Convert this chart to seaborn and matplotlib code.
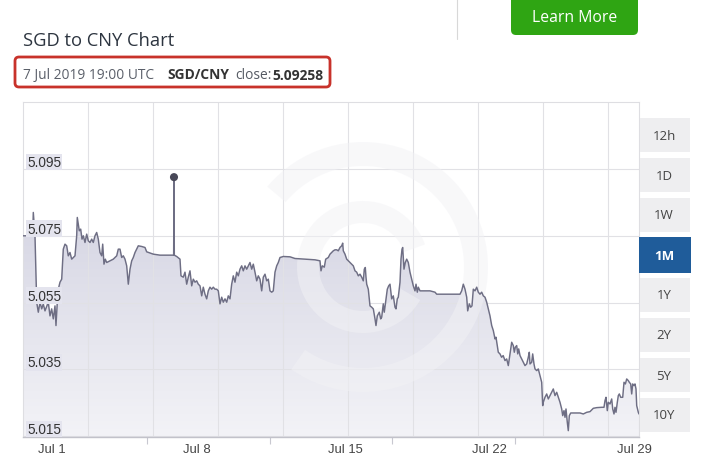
import numpy as np
import pandas as pd
import matplotlib
matplotlib.use("Agg")
import matplotlib.pyplot as plt
import matplotlib.dates as mdates
import matplotlib.transforms as mtransforms
from matplotlib.colors import LinearSegmentedColormap
from matplotlib.patches import FancyBboxPatch, Wedge, Rectangle
from matplotlib.lines import Line2D
import seaborn as sns

# days since 2019-07-01 00:00 and SGD/CNY rate
day_offset = [
    -0.725, -0.256, -0.227, -0.145, -0.063, 0.015, 0.097, 0.179, 0.256, 0.338,
    0.498, 0.580, 0.662, 0.740, 0.822, 0.870, 0.933, 0.982, 1.064, 1.146,
    1.223, 1.306, 1.388, 1.465, 1.547, 1.630, 1.707, 1.789, 1.871, 1.900,
    1.997, 2.065, 2.128, 2.191, 2.273, 2.355, 2.432, 2.515, 2.597, 2.674,
    2.756, 2.838, 2.916, 2.998, 3.080, 3.129, 3.191, 3.254, 3.322, 3.482,
    3.641, 3.806, 3.883, 3.965, 4.047, 4.125, 4.207, 4.289, 4.367, 4.449,
    4.531, 4.608, 4.691, 4.773, 4.850, 5.015, 5.174, 5.256, 5.575, 5.899,
    6.560, 6.576, 6.592, 6.707, 6.867,
    6.915, 7.026, 7.108, 7.190, 7.268, 7.350, 7.432, 7.510, 7.592, 7.674,
    7.751, 7.834, 7.916, 7.993, 8.075, 8.157, 8.235, 8.317, 8.399, 8.477,
    8.559, 8.641, 8.719, 8.801, 8.883, 8.960, 9.043, 9.125, 9.202, 9.284,
    9.366, 9.444, 9.526, 9.608, 9.686, 9.768, 9.850, 9.927, 10.010, 10.092,
    10.169, 10.251, 10.334, 10.411, 10.493, 10.575, 10.653, 10.735, 10.817, 10.895,
    10.977, 11.059, 11.137, 11.219, 11.301, 11.378, 11.460, 11.543, 11.620, 11.702,
    11.862, 12.186, 12.427, 12.911, 13.395, 13.636, 13.685, 13.748, 13.844, 13.912,
    14.038, 14.120, 14.202, 14.279, 14.362,
    14.444, 14.521, 14.603, 14.685, 14.734, 14.763, 14.845, 14.927, 15.005, 15.087,
    15.169, 15.247, 15.329, 15.411, 15.489, 15.571, 15.653, 15.730, 15.779, 15.827,
    15.861, 15.895, 15.972, 16.054, 16.136, 16.214, 16.296, 16.344, 16.407, 16.504,
    16.571, 16.620, 16.697, 16.745, 16.828, 16.891, 16.958, 17.021, 17.103, 17.181,
    17.263, 17.311, 17.374, 17.423, 17.505, 17.553, 17.602, 17.635, 17.698, 17.761,
    17.829, 17.906, 17.988, 18.070, 18.148, 18.230, 18.279, 18.342, 18.390, 18.472,
    18.632, 18.956, 19.197, 19.279, 19.521, 19.923, 20.406, 20.488, 20.566, 20.648,
    20.730, 20.778, 20.856, 20.924, 20.986, 21.050, 21.132, 21.214, 21.291,
    21.373, 21.455, 21.533, 21.615, 21.697, 21.775, 21.857, 21.939, 22.017, 22.099,
    22.147, 22.210, 22.258, 22.340, 22.418, 22.495, 22.582, 22.664, 22.742, 22.824,
    22.906, 22.983, 23.032, 23.080, 23.148, 23.197, 23.245, 23.308, 23.390, 23.467,
    23.549, 23.631, 23.709, 23.757, 23.791, 23.873, 23.921, 23.984, 24.033, 24.115,
    24.192, 24.275, 24.357, 24.405, 24.434, 24.516, 24.598, 24.676, 24.758, 24.840,
    24.918, 25.000, 25.082, 25.160, 25.242, 25.324, 25.373, 25.435, 25.484, 25.532,
    25.595, 25.643, 25.692, 25.760, 25.886, 26.209, 26.369, 26.533, 26.692, 26.852,
    27.017, 27.258, 27.369, 27.418, 27.466, 27.529, 27.577, 27.660, 27.742, 27.791,
    27.853, 27.901, 27.950, 28.013, 28.061, 28.110, 28.177, 28.274, 28.337, 28.404,
    28.467, 28.544, 28.593, 28.660, 28.709, 28.757, 28.820, 28.868, 28.917, 28.951,
    29.029, 29.062,
]
close_rate = [
    5.0750, 5.0750, 5.0820, 5.0750, 5.0551, 5.0521, 5.0551, 5.0531, 5.0546, 5.0525,
    5.0551, 5.0510, 5.0531, 5.0501, 5.0540, 5.0481, 5.0551, 5.0590, 5.0611, 5.0620,
    5.0710, 5.0725, 5.0720, 5.0690, 5.0700, 5.0680, 5.0685, 5.0690, 5.0750, 5.0805,
    5.0765, 5.0770, 5.0740, 5.0750, 5.0730, 5.0755, 5.0735, 5.0730, 5.0740, 5.0730,
    5.0750, 5.0760, 5.0740, 5.0700, 5.0690, 5.0725, 5.0665, 5.0680, 5.0670, 5.0675,
    5.0680, 5.0690, 5.0710, 5.0710, 5.0685, 5.0690, 5.0680, 5.0660, 5.0605, 5.0650,
    5.0675, 5.0685, 5.0700, 5.0710, 5.0720, 5.0718, 5.0715, 5.0702, 5.0695, 5.0692,
    5.0692, 5.09258, 5.0692, 5.0688, 5.0680,
    5.0630, 5.0626, 5.0641, 5.0605, 5.0626, 5.0645, 5.0600, 5.0620, 5.0611, 5.0615,
    5.0605, 5.0600, 5.0570, 5.0596, 5.0575, 5.0561, 5.0585, 5.0596, 5.0590, 5.0596,
    5.0590, 5.0590, 5.0585, 5.0546, 5.0566, 5.0551, 5.0561, 5.0551, 5.0570, 5.0561,
    5.0605, 5.0630, 5.0611, 5.0641, 5.0630, 5.0650, 5.0660, 5.0645, 5.0660, 5.0650,
    5.0660, 5.0670, 5.0650, 5.0665, 5.0641, 5.0615, 5.0630, 5.0620, 5.0585, 5.0626,
    5.0635, 5.0615, 5.0620, 5.0585, 5.0581, 5.0585, 5.0641, 5.0660, 5.0670, 5.0685,
    5.0688, 5.0687, 5.0682, 5.0680, 5.0678, 5.0675, 5.0645, 5.0660, 5.0656, 5.0680,
    5.0685, 5.0695, 5.0700, 5.0705, 5.0708,
    5.0708, 5.0705, 5.0715, 5.0720, 5.0728, 5.0705, 5.0695, 5.0680, 5.0675, 5.0670,
    5.0665, 5.0660, 5.0645, 5.0641, 5.0630, 5.0635, 5.0626, 5.0615, 5.0650, 5.0655,
    5.0626, 5.0605, 5.0590, 5.0540, 5.0536, 5.0531, 5.0501, 5.0481, 5.0510, 5.0521,
    5.0501, 5.0506, 5.0546, 5.0521, 5.0561, 5.0590, 5.0600, 5.0605, 5.0561, 5.0570,
    5.0536, 5.0531, 5.0561, 5.0566, 5.0611, 5.0680, 5.0710, 5.0715, 5.0650, 5.0670,
    5.0680, 5.0670, 5.0641, 5.0620, 5.0600, 5.0585, 5.0605, 5.0581, 5.0596, 5.0585,
    5.0585, 5.0585, 5.0581, 5.0575, 5.0575, 5.0575, 5.0575, 5.0585, 5.0605, 5.0590,
    5.0566, 5.0525, 5.0546, 5.0536, 5.0540, 5.0590, 5.0585, 5.0596, 5.0581,
    5.0575, 5.0581, 5.0570, 5.0566, 5.0551, 5.0531, 5.0510, 5.0481, 5.0466, 5.0441,
    5.0446, 5.0421, 5.0401, 5.0396, 5.0386, 5.0391, 5.0376, 5.0381, 5.0361, 5.0396,
    5.0431, 5.0421, 5.0401, 5.0416, 5.0421, 5.0396, 5.0411, 5.0391, 5.0381, 5.0371,
    5.0361, 5.0366, 5.0386, 5.0401, 5.0366, 5.0371, 5.0396, 5.0366, 5.0351, 5.0346,
    5.0351, 5.0331, 5.0311, 5.0241, 5.0251, 5.0266, 5.0276, 5.0261, 5.0271, 5.0281,
    5.0291, 5.0271, 5.0281, 5.0266, 5.0251, 5.0231, 5.0211, 5.0226, 5.0206, 5.0231,
    5.0191, 5.0166, 5.0211, 5.0219, 5.0219, 5.0219, 5.0216, 5.0221, 5.0223, 5.0233,
    5.0235, 5.0236, 5.0236, 5.0256, 5.0266, 5.0226, 5.0251, 5.0246, 5.0261, 5.0231,
    5.0216, 5.0236, 5.0221, 5.0251, 5.0271, 5.0276, 5.0266, 5.0266, 5.0311, 5.0306,
    5.0321, 5.0316, 5.0311, 5.0306, 5.0276, 5.0306, 5.0301, 5.0306, 5.0291, 5.0241,
    5.0221, 5.0216,
]

date_labels = ["Jul 1", "Jul 8", "Jul 15", "Jul 22", "Jul 29"]
label_days = [0, 7, 14, 21, 28]
minor_tick_days = [5.27, 11.2, 17.12, 23.05]
rate_ticks = [5.015, 5.035, 5.055, 5.075, 5.095]
range_buttons = ["12h", "1D", "1W", "1M", "1Y", "2Y", "5Y", "10Y"]
active_range = "1M"

sns.set_style("white")
plt.rcParams["font.family"] = ["Liberation Sans", "DejaVu Sans"]

W, H = 713, 460
fig = plt.figure(figsize=(W / 100, H / 100), dpi=100)
fig.patch.set_facecolor("white")

start = pd.Timestamp("2019-07-01")
df = pd.DataFrame({
    "time": start + pd.to_timedelta(day_offset, unit="D"),
    "rate": close_rate,
})
y_lo, y_hi = 5.0147, 5.1151

ax = fig.add_axes([23 / W, 22 / H, 616 / W, 335 / H])

# gradient area under the line
area = ax.fill_between(df["time"], df["rate"], y_lo, facecolor="none", edgecolor="none")
x0 = mdates.date2num(df["time"].iloc[0])
x1 = mdates.date2num(df["time"].iloc[-1])
grad = np.linspace(0, 1, 256).reshape(-1, 1)
fill_cmap = LinearSegmentedColormap.from_list("xe_fill", ["#f3f3f7", "#d2d2e1"])
im = ax.imshow(grad, extent=[x0, x1, y_lo, 5.09], origin="lower", aspect="auto",
               cmap=fill_cmap, zorder=1)
im.set_clip_path(area.get_paths()[0], transform=ax.transData)

# grid
for v in rate_ticks:
    ax.axhline(v, color="#e1e1e5", lw=0.8, zorder=2)
for k in range(1, 10):
    ax.plot([k * 65 / 616] * 2, [0, 1], transform=ax.transAxes,
            color="#e1e1e5", lw=0.8, zorder=2)

# faint watermark ring
wm = dict(transform=fig.dpi_scale_trans, facecolor="#f2f2f5", edgecolor="none",
          alpha=0.5, zorder=3)
ax.add_patch(Wedge((3.63, 1.92), 1.25, -125, 140, width=0.24, **wm))
ax.add_patch(Wedge((3.63, 1.92), 0.66, 20, 330, width=0.22, **wm))

sns.lineplot(data=df, x="time", y="rate", ax=ax, color="#6e6e84",
             linewidth=1.05, zorder=4)
peak = df.loc[[df["rate"].idxmax()]]
sns.scatterplot(data=peak, x="time", y="rate", ax=ax, s=34, color="#484858",
                edgecolor="none", zorder=5)

ax.set_xlim(start + pd.Timedelta(days=-0.725), start + pd.Timedelta(days=29.062))
ax.set_ylim(y_lo, y_hi)
ax.set_xlabel("")
ax.set_ylabel("")
ax.grid(False)

# y labels inside the plot, above each gridline
lab_tr = ax.get_yaxis_transform() + mtransforms.ScaledTranslation(4 / 100, 3 / 100, fig.dpi_scale_trans)
for v in rate_ticks:
    ax.text(0, v, f"{v:.3f}", transform=lab_tr, ha="left", va="baseline",
            fontsize=9.8, color="#333333", zorder=6,
            bbox=dict(boxstyle="square,pad=0.1", fc="#e4e4ee", ec="none"))
ax.set_yticks(rate_ticks)
ax.tick_params(axis="y", left=False, labelleft=False)

ax.set_xticks([start + pd.Timedelta(days=d) for d in label_days])
ax.set_xticklabels(date_labels)
ax.set_xticks([start + pd.Timedelta(days=d) for d in minor_tick_days], minor=True)
ax.tick_params(axis="x", which="major", length=0, pad=4, labelsize=9.4, labelcolor="#444444")
ax.tick_params(axis="x", which="minor", bottom=True, length=5, width=0.8,
               color="#c8c8d0", direction="out")
for t in ax.get_xticklabels():
    t.set_horizontalalignment("left")

for side in ["left", "top", "right"]:
    ax.spines[side].set_color("#dedee2")
    ax.spines[side].set_linewidth(0.8)
ax.spines["bottom"].set_color("#c2c2ca")
ax.spines["bottom"].set_linewidth(1.0)

# header
fig.text(23 / W, 1 - 46 / H, "SGD to CNY Chart", family="Open Sans", fontsize=13.2,
         color="#2d3540", va="baseline")
sub_y = 1 - 79 / H
fig.text(23 / W, sub_y, "7 Jul 2019 19:00 UTC", family="Open Sans", fontsize=9.9,
         color="#5a5f69", va="baseline")
fig.text(167 / W, sub_y, "SGD/CNY", family="Open Sans", fontsize=9.9,
         weight="bold", color="#333333", va="baseline")
close_txt = fig.text(235 / W, sub_y, "close:", family="Open Sans", fontsize=9.9,
                     color="#555a63", va="baseline")
ax.annotate(f"{peak['rate'].iloc[0]:.5f}", xy=(1, 0), xycoords=close_txt,
            xytext=(0.5, 0), textcoords="offset points",
            family="Open Sans", fontsize=9.9, weight="bold", color="#333333",
            ha="left", va="bottom", annotation_clip=False)
fig.add_artist(FancyBboxPatch((0.15, (H - 88) / 100), 3.15, 0.30,
                              boxstyle="round,pad=0,rounding_size=0.04",
                              transform=fig.dpi_scale_trans, fc="none",
                              ec="#c8322b", lw=2.0))

# top right button and separator
fig.add_artist(Line2D([457 / W] * 2, [1, 1 - 40 / H], color="#d8d8d8", lw=0.8))
fig.add_artist(FancyBboxPatch((5.11, (H - 36) / 100), 1.27, 0.5,
                              boxstyle="round,pad=0,rounding_size=0.05",
                              transform=fig.dpi_scale_trans, fc="#2fa513", ec="none"))
fig.text(575 / W, 1 - 18.5 / H, "Learn More", family="Open Sans", fontsize=11.3,
         color="white", ha="center", va="center")

# range selector buttons
for i, lab in enumerate(range_buttons):
    top = 119 + 40 * i
    if lab == active_range:
        fig.add_artist(Rectangle((6.39, (H - top - 35) / 100), 0.52, 0.36,
                                 transform=fig.dpi_scale_trans, fc="#1f5c9a", ec="none"))
        fig.text(664 / W, 1 - (top + 17) / H, lab, family="Open Sans", fontsize=9.5,
                 weight="bold", color="white", ha="center", va="center")
    else:
        fig.add_artist(Rectangle((6.40, (H - top - 34) / 100), 0.50, 0.34,
                                 transform=fig.dpi_scale_trans, fc="#eeeef0", ec="none"))
        fig.text(664 / W, 1 - (top + 17) / H, lab, family="Open Sans", fontsize=9.5,
                 color="#444444", ha="center", va="center")

fig.savefig("out.png", dpi=100)
